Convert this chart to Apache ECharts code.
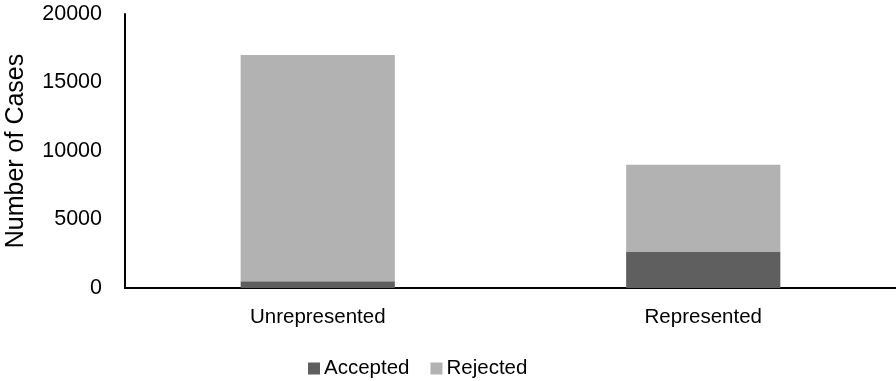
<!DOCTYPE html>
<html>
<head>
<meta charset="utf-8">
<script src="https://cdn.jsdelivr.net/npm/echarts@6/dist/echarts.min.js"></script>
<style>
html,body{margin:0;padding:0;background:#fff;}
#chart{width:896px;height:381px;}
</style>
</head>
<body>
<div id="chart"></div>
<script>
// Case outcomes by representation status
const categories = ['Unrepresented', 'Represented'];
const accepted = [500, 2630];
const rejected = [16500, 6370];
const yTicks = [0, 5000, 10000, 15000, 20000];

const font = '"Liberation Sans", Arial, sans-serif';
const chart = echarts.init(document.getElementById('chart'));
chart.setOption({
  animation: false,
  textStyle: { fontFamily: font },
  grid: { left: 125, right: 0, top: 14, bottom: 93, containLabel: false, outerBoundsMode: 'none' },
  legend: {
    bottom: 2,
    left: 308,
    itemWidth: 12,
    itemHeight: 12,
    itemGap: 21,
    icon: 'rect',
    padding: 0,
    textStyle: { fontSize: 20.5, color: '#000', fontFamily: font, padding: [0, 0, 0, -1] },
    data: ['Accepted', 'Rejected']
  },
  xAxis: {
    type: 'category',
    data: categories,
    axisLine: { lineStyle: { color: '#000', width: 2 } },
    axisTick: { show: false },
    axisLabel: { fontSize: 20.5, color: '#000', margin: 19, fontFamily: font }
  },
  yAxis: {
    type: 'value',
    min: yTicks[0],
    max: yTicks[yTicks.length - 1],
    interval: 5000,
    name: 'Number of Cases',
    nameLocation: 'middle',
    nameGap: 96,
    nameTextStyle: { fontSize: 25, color: '#000', fontFamily: font },
    axisLine: { show: true, lineStyle: { color: '#000', width: 2 } },
    axisTick: { show: false },
    splitLine: { show: false },
    axisLabel: {
      fontSize: 21.5, color: '#000', margin: 23, fontFamily: font,
      formatter: v => String(v)
    }
  },
  series: [
    {
      name: 'Accepted', type: 'bar', stack: 'cases', data: accepted,
      barWidth: '40%',
      itemStyle: { color: '#5f5f5f' }
    },
    {
      name: 'Rejected', type: 'bar', stack: 'cases', data: rejected,
      barWidth: '40%',
      itemStyle: { color: '#b2b2b2' }
    }
  ]
});
</script>
</body>
</html>
